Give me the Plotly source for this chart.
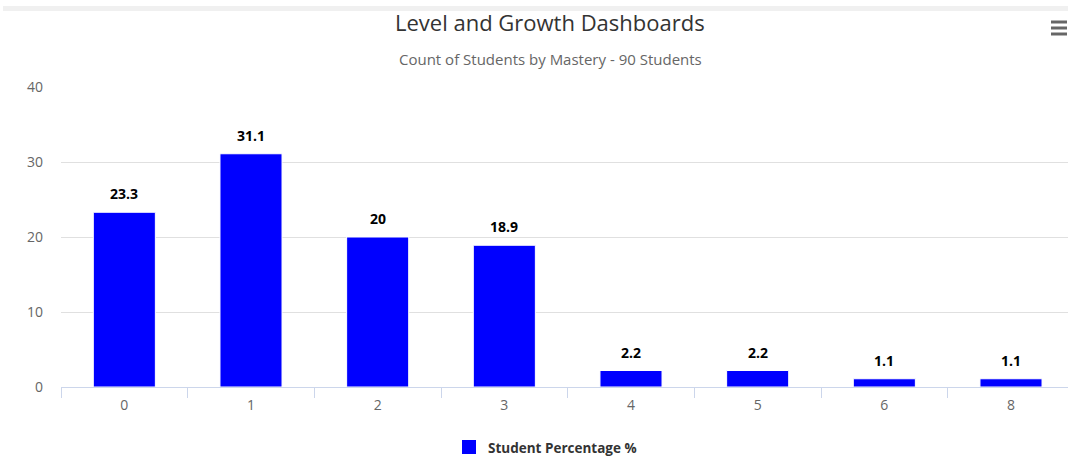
import plotly.graph_objects as go

categories = ["0", "1", "2", "3", "4", "5", "6", "8"]
percentages = [23.3, 31.1, 20, 18.9, 2.2, 2.2, 1.1, 1.1]
y_ticks = [0, 10, 20, 30, 40]
series_name = "Student Percentage %"
title_text = "Level and Growth Dashboards"
subtitle_text = "Count of Students by Mastery - 90 Students"

W, H = 1068, 457
L, T, B = 61, 87, 70
plot_w = W - L
plot_h = H - T - B

def px_x(px):
    return (px - L) / plot_w

def px_y(py):
    return (H - B - py) / plot_h

font_family = "Open Sans, Lucida Grande, Arial, sans-serif"
bar_color = "#0000ff"

fig = go.Figure()
fig.add_trace(go.Bar(
    x=categories,
    y=percentages,
    name=series_name,
    width=0.49,
    marker=dict(color=bar_color, line=dict(color="#ffffff", width=1)),
    hoverinfo="x+y",
    showlegend=False,
))

annotations = []
for i, v in enumerate(percentages):
    annotations.append(dict(
        x=i, y=v, xref="x", yref="y", text="<b>%g</b>" % v,
        showarrow=False, yanchor="bottom", yshift=7,
        font=dict(family=font_family, size=14, color="#000000"),
    ))
annotations.append(dict(
    x=px_x(550), y=px_y(22), xref="paper", yref="paper", text=title_text,
    showarrow=False, xanchor="center", yanchor="middle",
    font=dict(family=font_family, size=22, color="#333333"),
))
annotations.append(dict(
    x=px_x(550), y=px_y(59), xref="paper", yref="paper", text=subtitle_text,
    showarrow=False, xanchor="center", yanchor="middle",
    font=dict(family=font_family, size=15, color="#666666"),
))
# legend text
annotations.append(dict(
    x=px_x(486), y=px_y(448), xref="paper", yref="paper", text="<b>%s</b>" % series_name,
    showarrow=False, xanchor="left", yanchor="middle",
    font=dict(family=font_family, size=13.5, color="#333333"),
))

shapes = [
    dict(type="rect", xref="paper", yref="paper",
         x0=px_x(3), x1=px_x(1068), y0=px_y(11), y1=px_y(6),
         fillcolor="#f0f0f0", line=dict(width=0), layer="below"),
    dict(type="rect", xref="paper", yref="paper",
         x0=px_x(462), x1=px_x(476), y0=px_y(454), y1=px_y(440),
         fillcolor=bar_color, line=dict(width=0)),
]
for yy in (22, 28, 34):
    shapes.append(dict(type="line", xref="paper", yref="paper",
                       x0=px_x(1051), x1=px_x(1067), y0=px_y(yy), y1=px_y(yy),
                       line=dict(color="#666666", width=3)))

fig.update_layout(
    width=W, height=H,
    margin=dict(l=L, r=0, t=T, b=B, pad=0),
    paper_bgcolor="#ffffff",
    plot_bgcolor="#ffffff",
    font=dict(family=font_family, color="#666666"),
    showlegend=False,
    annotations=annotations,
    shapes=shapes,
    xaxis=dict(
        type="category",
        range=[-0.5, 7.45],
        tickson="boundaries",
        ticks="outside",
        ticklen=10,
        tickcolor="#ccd6eb",
        showline=True,
        linecolor="#ccd6eb",
        linewidth=1,
        showgrid=False,
        ticklabelstandoff=5,
        tickfont=dict(family=font_family, size=14, color="#666666"),
        fixedrange=True,
    ),
    yaxis=dict(
        range=[0, 40],
        tickvals=y_ticks,
        showgrid=True,
        gridcolor="#e0e0e0",
        gridwidth=1,
        zeroline=False,
        showline=False,
        ticks="",
        ticklabelstandoff=17,
        tickfont=dict(family=font_family, size=14, color="#666666"),
        fixedrange=True,
    ),
)

fig.write_html("out.html", config={"displayModeBar": False})
